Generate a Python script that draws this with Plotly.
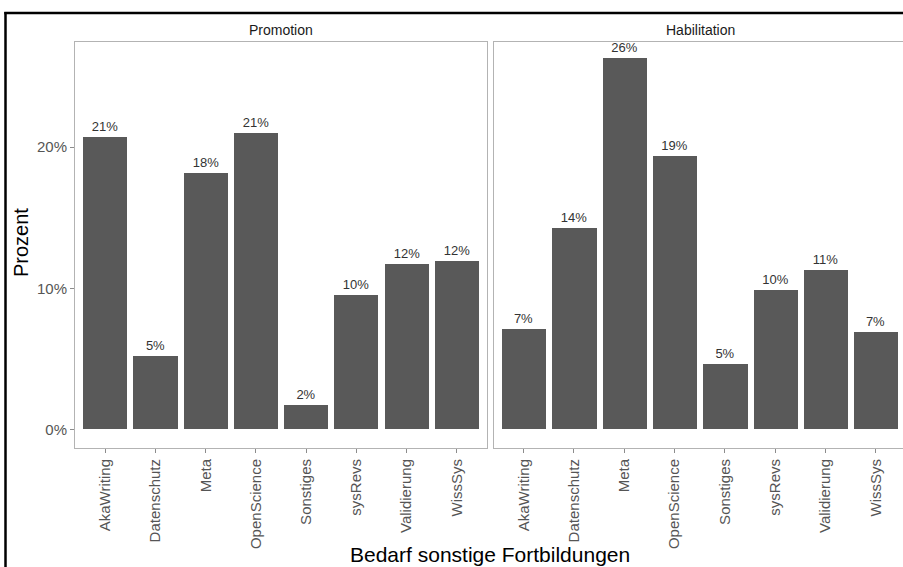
import plotly.graph_objects as go

categories = ["AkaWriting", "Datenschutz", "Meta", "OpenScience", "Sonstiges", "sysRevs", "Validierung", "WissSys"]
promotion = [20.7, 5.2, 18.2, 21.0, 1.7, 9.5, 11.7, 11.9]
habilitation = [7.1, 14.3, 26.3, 19.4, 4.6, 9.9, 11.3, 6.9]
panels = ["Promotion", "Habilitation"]
y_ticks = [0, 10, 20]
y_ticklabels = ["0%", "10%", "20%"]

W, H = 903, 567
BAR = "#595959"
FONT = "Liberation Sans, Arial, sans-serif"

fig = go.Figure()
for vals, xa, ya in [(promotion, "x", "y"), (habilitation, "x2", "y2")]:
    fig.add_trace(go.Bar(
        x=list(range(len(categories))), y=vals, xaxis=xa, yaxis=ya,
        marker=dict(color=BAR, line=dict(width=0)), width=0.88,
        text=[f"{round(v)}%" for v in vals], textposition="outside",
        textfont=dict(size=13, color="#333333", family=FONT),
        cliponaxis=False, showlegend=False, hoverinfo="skip",
    ))

ydom = [1 - 448 / H, 1 - 42 / H]
axis_line = dict(showline=True, linecolor="#b3b3b3", linewidth=1)
xcommon = dict(tickmode="array", tickvals=list(range(len(categories))), ticktext=categories,
               tickangle=-90, ticks="outside", ticklen=4, tickcolor="#8c8c8c",
               tickfont=dict(size=15, color="#555555", family=FONT),
               showgrid=False, zeroline=False, mirror=True, **axis_line)
fig.update_layout(
    width=W, height=H, margin=dict(l=0, r=0, t=0, b=0),
    paper_bgcolor="white", plot_bgcolor="white", bargap=0,
    xaxis=dict(domain=[75 / W, 487 / W], range=[-0.6, 7.6], anchor="y", **xcommon),
    xaxis2=dict(domain=[493.5 / W, 1.0], range=[-0.6, 7.54], anchor="y2", **xcommon),
    yaxis=dict(domain=ydom, range=[-1.32, 27.45], tickmode="array", tickvals=y_ticks,
               ticktext=y_ticklabels, ticks="outside", ticklen=4, tickcolor="#8c8c8c",
               tickfont=dict(size=15, color="#555555", family=FONT),
               showgrid=False, zeroline=False, anchor="x", mirror=True, **axis_line),
    yaxis2=dict(domain=ydom, range=[-1.32, 27.45], showticklabels=False, ticks="",
                showgrid=False, zeroline=False, anchor="x2", **axis_line),
)

anns = []
for text, cx in [(panels[0], 281), (panels[1], 700)]:
    anns.append(dict(text=text, xref="paper", yref="paper", x=cx / W, y=1 - 30 / H,
                     xanchor="center", yanchor="middle", showarrow=False,
                     font=dict(size=14, color="#1a1a1a", family=FONT)))
anns.append(dict(text="Prozent", xref="paper", yref="paper", x=21 / W, y=1 - 243 / H,
                 textangle=-90, showarrow=False, xanchor="center", yanchor="middle",
                 font=dict(size=20, color="black", family=FONT)))
anns.append(dict(text="Bedarf sonstige Fortbildungen", xref="paper", yref="paper",
                 x=490 / W, y=1 - 554 / H, showarrow=False, xanchor="center", yanchor="middle",
                 font=dict(size=21, color="black", family=FONT)))
fig.update_layout(annotations=anns)

shapes = [
    dict(type="line", xref="paper", yref="paper", x0=5.5 / W, x1=5.5 / W, y0=0, y1=1 - 12 / H,
         line=dict(color="black", width=2.5)),
    dict(type="line", xref="paper", yref="paper", x0=4.3 / W, x1=1, y0=1 - 13 / H, y1=1 - 13 / H,
         line=dict(color="black", width=2.5)),
]
fig.update_layout(shapes=shapes)

fig.write_html("out.html", config={"displayModeBar": False},
               post_script="document.body.style.margin='0';")
